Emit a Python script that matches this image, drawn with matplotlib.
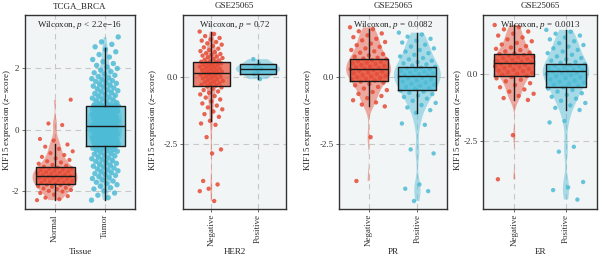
import matplotlib
matplotlib.use("Agg")
import matplotlib.pyplot as plt
import numpy as np

plt.rcParams['font.family'] = ['Liberation Serif', 'DejaVu Serif']
plt.rcParams['mathtext.fontset'] = 'custom'
plt.rcParams['mathtext.it'] = 'Liberation Serif:italic'
plt.rcParams['mathtext.rm'] = 'Liberation Serif'

RED = "#E64B35"
CYAN = "#4DBBD5"

# ---- data ----
titles = ["TCGA_BRCA", "GSE25065", "GSE25065", "GSE25065"]
xlabels = ["Tissue", "HER2", "PR", "ER"]
groups = [["Normal", "Tumor"], ["Negative", "Positive"], ["Negative", "Positive"], ["Negative", "Positive"]]
pvals = ["$p$ < 2.2e\u221216", "$p$ = 0.72", "$p$ = 0.0082", "$p$ = 0.0013"]
yticks = [[-2, 0, 2], [-2.5, 0.0], [-2.5, 0.0], [-2.5, 0.0]]
yticklabels = [["-2", "0", "2"], ["-2.5", "0.0"], ["-2.5", "0.0"], ["-2.5", "0.0"]]
ylims = [(-2.55, 3.71), (-4.93, 2.31), (-4.93, 2.31), (-4.98, 2.17)]

tcga_normal = [-2.28, -2.25, -2.2, -2.15, -2.1, -2.05, -2.0, -1.98, -1.95, -1.92, -1.9, -1.88,
               -1.85, -1.83, -1.8, -1.78, -1.76, -1.74, -1.72, -1.7, -1.68, -1.66, -1.64, -1.62,
               -1.6, -1.58, -1.56, -1.54, -1.52, -1.5, -1.49, -1.47, -1.45, -1.43, -1.41, -1.39,
               -1.37, -1.35, -1.33, -1.31, -1.29, -1.27, -1.25, -1.23, -1.2, -1.17, -1.14, -1.1,
               -1.06, -1.02, -0.98, -0.93, -0.88, -0.82, -0.76, -0.7, -0.62, -0.55, -0.48, -0.35,
               -0.3, 0.15, 0.2, 0.97]
tcga_tumor = [-2.28, -2.2, -2.12, -2.05, -1.98, -1.92, -1.88, -1.83, -1.78, -1.74, -1.7, -1.66,
              -1.62, -1.58, -1.55, -1.52,
              -1.48, -1.45, -1.42, -1.39, -1.36, -1.33, -1.3, -1.27, -1.24, -1.21, -1.18, -1.15,
              -1.12, -1.09, -1.06, -1.03, -1.0, -0.97, -0.94, -0.91, -0.88, -0.85, -0.82, -0.79,
              -0.76, -0.73, -0.7, -0.68, -0.66, -0.64, -0.62, -0.6, -0.58, -0.56,
              -0.53, -0.52, -0.5, -0.49, -0.47, -0.46, -0.44, -0.43, -0.41, -0.4, -0.38, -0.37,
              -0.35, -0.34, -0.32, -0.31, -0.29, -0.28, -0.26, -0.25, -0.23, -0.22, -0.2, -0.19,
              -0.17, -0.16, -0.14, -0.13, -0.11, -0.1, -0.08, -0.07, -0.05, -0.04, -0.02, -0.01,
              0.0, 0.01, 0.02, 0.03, 0.04, 0.05, 0.06, 0.07, 0.08, 0.09, 0.1, 0.11, 0.115, 0.12,
              0.13, 0.15, 0.16, 0.18, 0.19, 0.21, 0.22, 0.24, 0.25, 0.27, 0.28, 0.3, 0.31, 0.33,
              0.34, 0.36, 0.37, 0.39, 0.4, 0.42, 0.43, 0.45, 0.46, 0.48, 0.49, 0.51, 0.52, 0.54,
              0.55, 0.57, 0.58, 0.6, 0.61, 0.63, 0.64, 0.66, 0.67, 0.69, 0.7, 0.71, 0.72, 0.73,
              0.74, 0.75, 0.76, 0.77, 0.775, 0.78, 0.785, 0.79,
              0.81, 0.84, 0.87, 0.9, 0.93, 0.96, 0.99, 1.02, 1.05, 1.08, 1.11, 1.14, 1.17, 1.2,
              1.23, 1.26, 1.29, 1.32, 1.35, 1.38, 1.41, 1.44, 1.47, 1.5, 1.53, 1.56, 1.59, 1.62,
              1.65, 1.68, 1.72, 1.76, 1.8, 1.84, 1.88, 1.93, 1.98, 2.03, 2.08, 2.14, 2.2, 2.27,
              2.35, 2.43, 2.52, 2.6, 2.68, 2.76, 2.84, 3.0]

her2_neg = [1.69, 1.6, 1.52, 1.45, 1.4, 1.35, 1.3, 1.25, 1.2, 1.15, 1.1, 1.05, 1.0, 0.96, 0.92,
            0.88, 0.85, 0.82, 0.79, 0.76, 0.73, 0.7, 0.67, 0.64, 0.61, 0.58, 0.56,
            0.54, 0.52, 0.5, 0.47, 0.45, 0.43, 0.4, 0.38, 0.35, 0.33, 0.3, 0.28, 0.25, 0.23, 0.2,
            0.18, 0.16, 0.14, 0.12, 0.1, 0.07, 0.05, 0.02, 0.0, -0.03, -0.06, -0.09, -0.12,
            -0.15, -0.18, -0.21, -0.24, -0.27, -0.3, -0.33,
            -0.36, -0.4, -0.45, -0.5, -0.55, -0.6, -0.66, -0.72, -0.78, -0.85, -0.92, -1.0,
            -1.08, -1.15, -1.22, -1.3, -1.4, -1.5, -1.65,
            -1.75, -1.8, -2.26, -2.72, -2.87, -3.9, -4.03, -4.19, -4.28, -4.65]
her2_pos = [0.66, 0.47, 0.38, 0.29, 0.2, 0.11, -0.09]

pr_neg = [1.85, 1.78, 1.7, 1.62, 1.55, 1.48, 1.42, 1.36, 1.3, 1.24, 1.18, 1.12, 1.06, 1.0, 0.95,
          0.9, 0.85, 0.8, 0.75, 0.71, 0.68,
          0.65, 0.62, 0.59, 0.56, 0.53, 0.5, 0.47, 0.44, 0.41, 0.38, 0.35, 0.32, 0.3, 0.28, 0.25,
          0.22, 0.19, 0.16, 0.13, 0.1, 0.07, 0.04, 0.01, -0.02, -0.05, -0.08, -0.11, -0.14,
          -0.18, -0.22, -0.27, -0.32, -0.38, -0.44, -0.5, -0.57, -0.64, -0.72, -0.8, -0.88,
          -0.96, -1.04, -1.11,
          -2.26, -3.9]
pr_pos = [1.65, 1.58, 1.5, 1.42, 1.35, 1.28, 1.2, 1.13, 1.06, 1.0, 0.94, 0.88, 0.82, 0.76, 0.7,
          0.65, 0.6, 0.55, 0.5, 0.46, 0.42,
          0.37, 0.34, 0.31, 0.28, 0.25, 0.22, 0.19, 0.16, 0.13, 0.1, 0.07, 0.05, 0.03, 0.0,
          -0.03, -0.06, -0.1, -0.14, -0.18, -0.22, -0.26, -0.3, -0.34, -0.38, -0.42, -0.46,
          -0.52, -0.56, -0.6, -0.65, -0.7, -0.76, -0.82, -0.9, -0.98, -1.06, -1.15, -1.25, -1.35,
          -1.75, -1.8, -2.72, -2.87, -4.03, -4.19, -4.28, -4.65]

er_neg = [1.8, 1.72, 1.64, 1.56, 1.48, 1.41, 1.34, 1.27, 1.2, 1.14, 1.08, 1.02, 0.97, 0.92, 0.87,
          0.82, 0.78, 0.75,
          0.72, 0.69, 0.66, 0.63, 0.6, 0.57, 0.54, 0.51, 0.48, 0.45, 0.43, 0.41, 0.39, 0.36, 0.33,
          0.3, 0.27, 0.24, 0.21, 0.18, 0.15, 0.12, 0.09, 0.06, 0.03, 0.0, -0.04, -0.08,
          -0.12, -0.17, -0.22, -0.28, -0.35, -0.42, -0.5, -0.58, -0.66, -0.74, -0.82, -0.9, -0.97,
          -2.27, -3.9]
er_pos = [1.62, 1.55, 1.48, 1.41, 1.34, 1.27, 1.2, 1.13, 1.06, 1.0, 0.94, 0.88, 0.82, 0.76, 0.7,
          0.64, 0.58, 0.53, 0.48, 0.44, 0.4,
          0.35, 0.32, 0.29, 0.26, 0.23, 0.2, 0.17, 0.14, 0.12, 0.1, 0.08, 0.05, 0.02, -0.01,
          -0.05, -0.09, -0.13, -0.17, -0.21, -0.25, -0.29, -0.33, -0.37, -0.41, -0.45,
          -0.5, -0.55, -0.6, -0.66, -0.72, -0.78, -0.85, -0.92, -1.0, -1.08, -1.17, -1.26, -1.34,
          -1.75, -1.8, -2.7, -2.88, -4.0, -4.2, -4.3, -4.65]

values = [[tcga_normal, tcga_tumor], [her2_neg, her2_pos], [pr_neg, pr_pos], [er_neg, er_pos]]

# box statistics: [group1, group2]
box_q1 = [[-1.77, -0.54], [-0.34, 0.11], [-0.15, -0.49], [-0.09, -0.48]]
box_med = [[-1.51, 0.12], [0.14, 0.29], [0.29, 0.04], [0.41, 0.10]]
box_q3 = [[-1.21, 0.78], [0.55, 0.47], [0.66, 0.38], [0.73, 0.36]]
whisk_lo = [[-2.29, -2.26], [-1.65, -0.09], [-1.11, -1.35], [-0.97, -1.34]]
whisk_hi = [[-0.45, 2.65], [1.69, 0.63], [1.78, 1.65], [1.80, 1.62]]

# ---- layout (figure pixels) ----
W, H = 600, 260
axes_px = [(25, 135), (183.3, 286), (339.3, 446.7), (483.3, 597)]
top_px, bot_px = 15, 208.5
violin_w = [[0.9, 0.7], [0.3, 0.95], [0.92, 0.96], [0.82, 0.9]]
jitter_w = [[0.36, 0.27], [0.25, 0.1], [0.38, 0.38], [0.38, 0.38]]
point_s = [[9, 15], [10, 10], [10, 10], [10, 10]]
ylabel_x = [7, 153, 308, 458]


def nrd0(kde):
    # R's default bandwidth, expressed as a factor of the data std
    d = kde.dataset.ravel()
    sd = d.std(ddof=1)
    iqr = np.subtract(*np.percentile(d, [75, 25]))
    bw = 0.9 * min(sd, iqr / 1.34) * len(d) ** -0.2
    return bw / sd


fig = plt.figure(figsize=(6, 2.6), dpi=100)
colors = [RED, CYAN]

for k in range(4):
    l, r = axes_px[k]
    ax = fig.add_axes([l / W, 1 - bot_px / H, (r - l) / W, (bot_px - top_px) / H])
    ax.set_facecolor("#F2F5F6")
    ax.set_xlim(0.4, 2.6)
    ax.set_ylim(*ylims[k])
    for yt in yticks[k]:
        ax.axhline(yt, color="#C8C8C8", lw=0.8, ls=(0, (5, 4)), zorder=0)
    for xt in [1, 2]:
        ax.axvline(xt, color="#C8C8C8", lw=0.8, ls=(0, (5, 4)), zorder=0)

    for g in range(2):
        data = values[k][g]
        vp = ax.violinplot([data], positions=[g + 1], widths=violin_w[k][g],
                           showextrema=False, bw_method=nrd0, points=200)
        for body in vp['bodies']:
            body.set_facecolor(colors[g])
            body.set_edgecolor("none")
            body.set_alpha(0.45)
            body.set_zorder(1)
        n = len(data)
        jit = np.array([((i * 0.6180339887) % 1 - 0.5) * 2 * jitter_w[k][g] for i in range(n)])
        ax.scatter(g + 1 + jit, data, s=point_s[k][g], color=colors[g], alpha=0.85,
                   edgecolors="none", zorder=2)

    stats = []
    for g in range(2):
        stats.append(dict(med=box_med[k][g], q1=box_q1[k][g], q3=box_q3[k][g],
                          whislo=whisk_lo[k][g], whishi=whisk_hi[k][g], fliers=[]))
    bp = ax.bxp(stats, positions=[1, 2], widths=0.78, patch_artist=True,
                showcaps=False, showfliers=False, zorder=3)
    for g, box in enumerate(bp['boxes']):
        box.set_facecolor(colors[g])
        box.set_alpha(0.7)
        box.set_edgecolor("none")
    for m in bp['medians']:
        m.set_color("#1a1a1a")
        m.set_linewidth(1.0)
        m.set_zorder(4)
    for w in bp['whiskers']:
        w.set_color("#1a1a1a")
        w.set_linewidth(1.0)
    # opaque box outlines
    for g in range(2):
        ax.plot([g + 1 - 0.39, g + 1 + 0.39, g + 1 + 0.39, g + 1 - 0.39, g + 1 - 0.39],
                [box_q1[k][g], box_q1[k][g], box_q3[k][g], box_q3[k][g], box_q1[k][g]],
                color="#1a1a1a", lw=1.0, zorder=4)

    ax.set_xticks([1, 2])
    ax.set_xticklabels(groups[k], rotation=90, fontsize=6.5, color="#333333")
    ax.set_yticks(yticks[k])
    ax.set_yticklabels(yticklabels[k], fontsize=6.5, color="#333333")
    ax.tick_params(length=2, width=0.6, color="#555555", pad=2)
    for s in ax.spines.values():
        s.set_color("#333333")
        s.set_linewidth(1.0)

    fig.text((l + r) / 2 / W, 1 - 252 / H, xlabels[k], ha="center", va="center",
             fontsize=6.5, color="#222222")
    fig.text((l + r) / 2 / W, 1 - 6 / H, titles[k], ha="center", va="center",
             fontsize=6.5, color="#222222")
    ax.text(0.5, 0.95, "Wilcoxon, " + pvals[k], transform=ax.transAxes, ha="center",
            va="center", fontsize=6.5, color="#222222", zorder=6)
    fig.text(ylabel_x[k] / W, 1 - 120 / H, "KIF15 expression ($z$\u2212score)", rotation=90,
             ha="center", va="center", fontsize=6.5, color="#222222")

fig.savefig("out.png", dpi=100)
